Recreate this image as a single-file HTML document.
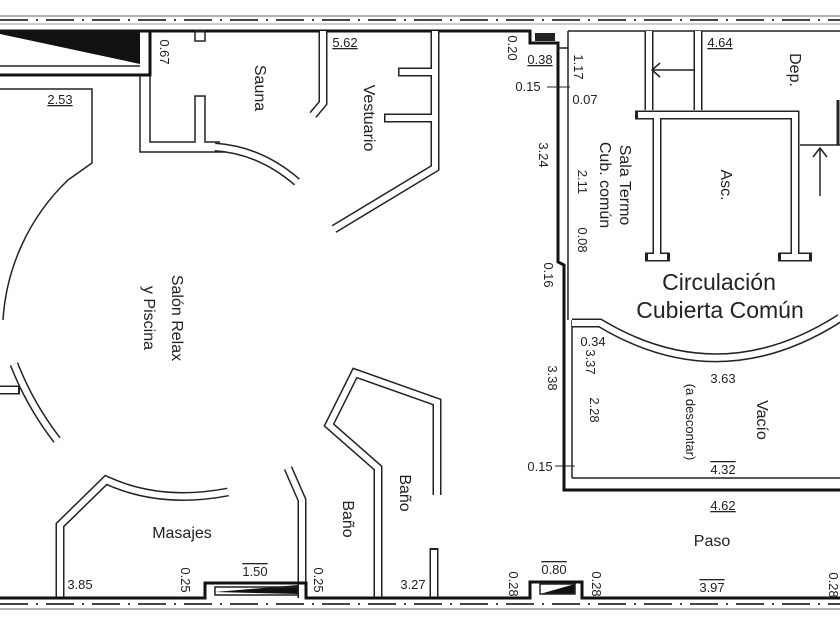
<!DOCTYPE html>
<html><head><meta charset="utf-8"><style>
html,body{margin:0;padding:0;background:#fff}
svg{display:block}
text{font-family:"Liberation Sans",sans-serif;fill:#222}
.w{fill:none;stroke:#222;stroke-width:9;stroke-linejoin:miter}
.wi{fill:none;stroke:#fff;stroke-width:6;stroke-linejoin:miter}
.t{fill:none;stroke:#222;stroke-width:1.5}
.b{fill:none;stroke:#111;stroke-width:3}
.n{font-size:13px}
.l{font-size:16px}
</style></head><body>
<svg width="840" height="630" viewBox="0 0 840 630">
<line x1="0" y1="16" x2="840" y2="16" stroke="#999" stroke-width="1.5"/>
<line x1="0" y1="20" x2="840" y2="20" stroke="#444" stroke-width="2" stroke-dasharray="28,8,2,8"/>
<line x1="0" y1="24" x2="840" y2="24" stroke="#999" stroke-width="1"/>
<line x1="0" y1="604" x2="840" y2="604" stroke="#444" stroke-width="2" stroke-dasharray="28,8,2,8"/>
<line x1="0" y1="609" x2="840" y2="609" stroke="#999" stroke-width="1.5"/>

<polygon points="0,31 140,31 140,64 0,34" fill="#111"/>
<polyline class="b" points="0,31 150,31 150,75 0,75"/>
<line x1="0" y1="66" x2="140" y2="66" stroke="#222" stroke-width="1.5"/>
<polyline class="b" points="150,31 530,31 530,43 558,43 558,262 564,265 564,490 840,490"/>
<polyline class="t" points="568,31 840,31"/>
<rect x="535" y="33" width="20" height="8" fill="#222"/>
<line x1="568" y1="31" x2="568" y2="320" stroke="#222" stroke-width="1.5"/>
<line x1="572" y1="320" x2="572" y2="478" stroke="#222" stroke-width="1.5"/>
<polyline class="t" points="572,478 840,478"/>
<polyline class="t" points="558,48 568,48 M558,100 572,100 M572,255 585,255 585,265 572,265"/>

<polyline class="t" points="140,75 140,152 225,152"/>
<polyline class="t" points="150,75 150,142 195,142 195,96 205,96 205,142 220,142"/>
<rect x="195" y="31" width="10" height="10" class="t"/>
<path class="w" d="M215,147 Q260,150 297,182"/><path class="wi" d="M215,147 Q260,150 297,182"/>
<path class="t" d="M0,89 L92,89 L92,163 L68,180 A212,212 0 0 0 3,320"/>
<path class="w" d="M323,31 L323,103 L313,115"/><path class="wi" d="M323,31 L323,103 L313,115"/>
<path class="w" d="M435,31 L435,168 L334,229"/><path class="wi" d="M435,31 L435,168 L334,229"/>
<path class="w" d="M398,72 L431,72 M384,118 L431,118"/><path class="wi" d="M399.5,72 L436,72 M385.5,118 L436,118"/>
<path class="wi" d="M435,34 L435,165"/>
<path class="w" d="M14,364 Q30,405 57,440"/><path class="wi" d="M14,364 Q30,405 57,440"/>
<path class="w" d="M0,390 L20,390"/><path class="wi" d="M0,390 L18,390"/>
<path class="w" d="M60,598 L60,525 L106,480 Q160,505 228,492"/><path class="wi" d="M60,598 L60,525 L106,480 Q160,505 228,492"/>
<path class="w" d="M302,598 L302,500 L288,468"/><path class="wi" d="M302,598 L302,500 L288,468"/>
<path class="w" d="M378,598 L378,468 L329,425 L355,373 L437,402 L437,495"/><path class="wi" d="M378,598 L378,468 L329,425 L355,373 L437,402 L437,495"/>
<path class="w" d="M434,548 L434,598"/><path class="wi" d="M434,550 L434,598"/>
<polyline class="b" points="0,598 205,598 205,583 306,583 306,598 530,598 530,582 582,582 582,598 840,598"/>
<polygon points="215,592 298,585 298,594" fill="#111"/>
<rect x="215" y="587" width="83" height="8" class="t"/>
<polygon points="540,594 575,584 575,594" fill="#111"/>
<rect x="540" y="584" width="35" height="10" class="t"/>

<path class="w" d="M649,31 L649,110 M698,31 L698,110"/><path class="wi" d="M649,31 L649,112 M698,31 L698,112"/>
<line x1="652" y1="70" x2="694" y2="70" stroke="#222" stroke-width="1.5"/>
<path d="M660,63 L652,70 L660,77" class="t"/>
<path class="w" d="M635,115 L795,115 L795,257 M657,115 L657,257 M645,257 L670,257 M778,257 L812,257"/>
<path class="wi" d="M638,115 L795,115 L795,257 M657,118 L657,257 M648,257 L667,257 M781,257 L809,257"/>
<polyline class="t" points="800,145 840,145 M800,197 840,197"/>
<line x1="820" y1="148" x2="820" y2="196" stroke="#222" stroke-width="1.5"/>
<path d="M813,157 L820,148 L827,157" class="t"/>
<line x1="838" y1="100" x2="838" y2="145" stroke="#222" stroke-width="3"/>
<path class="w" d="M572,323 L600,323 Q720,395 840,318"/><path class="wi" d="M572,323 L600,323 Q720,395 840,318"/>

<text class="l" transform="translate(255,88) rotate(90)" text-anchor="middle">Sauna</text>
<text class="l" transform="translate(364,118) rotate(90)" text-anchor="middle">Vestuario</text>
<text class="l" transform="translate(172,318) rotate(90)" text-anchor="middle">Salón Relax</text>
<text class="l" transform="translate(144,318) rotate(90)" text-anchor="middle">y Piscina</text>
<text class="l" x="182" y="538" text-anchor="middle">Masajes</text>
<text class="l" transform="translate(343,519) rotate(90)" text-anchor="middle">Baño</text>
<text class="l" transform="translate(400,493) rotate(90)" text-anchor="middle">Baño</text>
<text class="l" transform="translate(620,185) rotate(90)" text-anchor="middle">Sala Termo</text>
<text class="l" transform="translate(600,185) rotate(90)" text-anchor="middle">Cub. común</text>
<text class="l" transform="translate(721,185) rotate(90)" text-anchor="middle">Asc.</text>
<text class="l" transform="translate(790,70) rotate(90)" text-anchor="middle">Dep.</text>
<text x="719" y="290" text-anchor="middle" style="font-size:23px">Circulación</text>
<text x="720" y="318" text-anchor="middle" style="font-size:23px">Cubierta Común</text>
<text class="l" transform="translate(757,420) rotate(90)" text-anchor="middle">Vacío</text>
<text class="n" transform="translate(686,422) rotate(90)" text-anchor="middle">(a descontar)</text>
<text class="l" x="712" y="546" text-anchor="middle">Paso</text>

<g class="n">
<text x="345" y="47" text-anchor="middle" text-decoration="underline">5.62</text>
<text x="60" y="104" text-anchor="middle" text-decoration="underline">2.53</text>
<text x="720" y="47" text-anchor="middle" text-decoration="underline">4.64</text>
<text x="540" y="64" text-anchor="middle" text-decoration="underline">0.38</text>
<text x="528" y="91" text-anchor="middle">0.15</text>
<text x="585" y="104" text-anchor="middle">0.07</text>
<text x="593" y="346" text-anchor="middle">0.34</text>
<text x="723" y="383" text-anchor="middle">3.63</text>
<text x="540" y="471" text-anchor="middle">0.15</text>
<text x="723" y="474" text-anchor="middle" text-decoration="overline">4.32</text>
<text x="723" y="510" text-anchor="middle" text-decoration="underline">4.62</text>
<text x="80" y="589" text-anchor="middle">3.85</text>
<text x="255" y="576" text-anchor="middle" text-decoration="overline">1.50</text>
<text x="413" y="589" text-anchor="middle">3.27</text>
<text x="554" y="574" text-anchor="middle" text-decoration="overline">0.80</text>
<text x="712" y="592" text-anchor="middle" text-decoration="overline">3.97</text>
<text transform="translate(160,52) rotate(90)" text-anchor="middle">0.67</text>
<text transform="translate(508,48) rotate(90)" text-anchor="middle">0.20</text>
<text transform="translate(574,67) rotate(90)" text-anchor="middle">1.17</text>
<text transform="translate(539,155) rotate(90)" text-anchor="middle">3.24</text>
<text transform="translate(578,182) rotate(90)" text-anchor="middle">2.11</text>
<text transform="translate(578,240) rotate(90)" text-anchor="middle">0.08</text>
<text transform="translate(544,275) rotate(90)" text-anchor="middle">0.16</text>
<text transform="translate(586,362) rotate(90)" text-anchor="middle">3.37</text>
<text transform="translate(548,378) rotate(90)" text-anchor="middle">3.38</text>
<text transform="translate(590,410) rotate(90)" text-anchor="middle">2.28</text>
<text transform="translate(181,580) rotate(90)" text-anchor="middle">0.25</text>
<text transform="translate(314,580) rotate(90)" text-anchor="middle">0.25</text>
<text transform="translate(509,584) rotate(90)" text-anchor="middle">0.28</text>
<text transform="translate(592,584) rotate(90)" text-anchor="middle">0.28</text>
<text transform="translate(829,585) rotate(90)" text-anchor="middle">0.28</text>
</g>
<line x1="547" y1="87" x2="570" y2="87" stroke="#222" stroke-width="1"/>
<line x1="555" y1="466" x2="575" y2="466" stroke="#222" stroke-width="1"/>
</svg>
</body></html>
